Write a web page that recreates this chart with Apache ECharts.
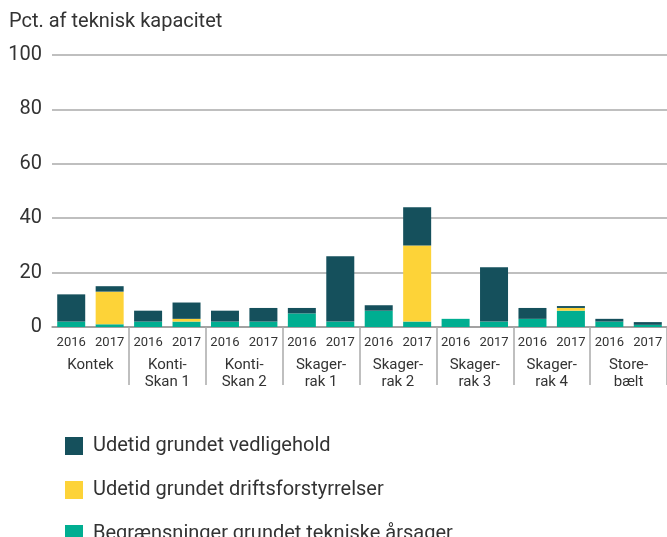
<!DOCTYPE html>
<html>
<head>
<meta charset="utf-8">
<script src="https://cdn.jsdelivr.net/npm/echarts@6/dist/echarts.min.js"></script>
<style>
  html, body { margin: 0; padding: 0; background: #fff; }
  #chart { width: 667px; height: 537px; }
</style>
</head>
<body>
<div id="chart"></div>
<script>
// data
var years = ['2016', '2017', '2016', '2017', '2016', '2017', '2016', '2017',
             '2016', '2017', '2016', '2017', '2016', '2017', '2016', '2017'];
var groups = ['Kontek', 'Konti-\nSkan 1', 'Konti-\nSkan 2', 'Skager-\nrak 1',
              'Skager-\nrak 2', 'Skager-\nrak 3', 'Skager-\nrak 4', 'Store-\nbælt'];
var teknisk = [2, 1, 2, 2, 2, 2, 5, 2, 6, 2, 3, 2, 3, 6, 2, 0.8];
var drift   = [0, 12, 0, 1, 0, 0, 0, 0, 0, 28, 0, 0, 0, 1, 0, 0];
var vedl    = [10, 2, 4, 6, 4, 5, 2, 24, 2, 14, 0, 20, 4, 0.7, 1, 1];

var names = ['Udetid grundet vedligehold', 'Udetid grundet driftsforstyrrelser',
             'Begrænsninger grundet tekniske årsager'];

var chart = echarts.init(document.getElementById('chart'));
var font = 'Roboto';

var option = {
    animation: false,
    textStyle: { fontFamily: font },
    title: {
        text: 'Pct. af teknisk kapacitet',
        left: 9, top: 12, padding: 0,
        textStyle: { fontFamily: font, fontSize: 20, fontWeight: 'normal', color: '#333' }
    },
    legend: {
        orient: 'vertical',
        left: 65, top: 436, height: 140, padding: 0,
        itemWidth: 18, itemHeight: 18, itemGap: 24,
        icon: 'rect',
        data: names,
        textStyle: { fontFamily: font, fontSize: 20, color: '#333', padding: [0, 0, 0, 5] }
    },
    grid: { left: 52, right: 0, top: 55, bottom: 210 },
    xAxis: [{
        type: 'category',
        position: 'bottom',
        data: years,
        axisLine: { lineStyle: { color: '#999', width: 1.5 } },
        axisTick: { show: false },
        axisLabel: { fontFamily: font, fontSize: 13, color: '#333', margin: 9, interval: 0 }
    }, {
        type: 'category',
        position: 'bottom',
        data: groups,
        axisLine: { show: false },
        axisTick: {
            show: true, length: 58,
            interval: function (i) { return i > 0; },
            lineStyle: { color: '#aaa', width: 1.5 }
        },
        axisLabel: { fontFamily: font, fontSize: 15, color: '#333', margin: 30, lineHeight: 17, interval: 0 }
    }],
    yAxis: {
        type: 'value',
        min: 0, max: 100, interval: 20,
        axisLine: { show: false },
        axisTick: { show: false },
        splitLine: { lineStyle: { color: '#aaa', width: 1.5 } },
        axisLabel: { fontFamily: font, fontSize: 20, color: '#333', margin: 10 }
    },
    series: [{
        name: names[2], type: 'bar', stack: 'a', barWidth: 28,
        itemStyle: { color: '#00ae91' }, data: teknisk
    }, {
        name: names[1], type: 'bar', stack: 'a', barWidth: 28,
        itemStyle: { color: '#fdd338' }, data: drift
    }, {
        name: names[0], type: 'bar', stack: 'a', barWidth: 28,
        itemStyle: { color: '#15505c' }, data: vedl
    }]
};

chart.setOption(option);
</script>
</body>
</html>
